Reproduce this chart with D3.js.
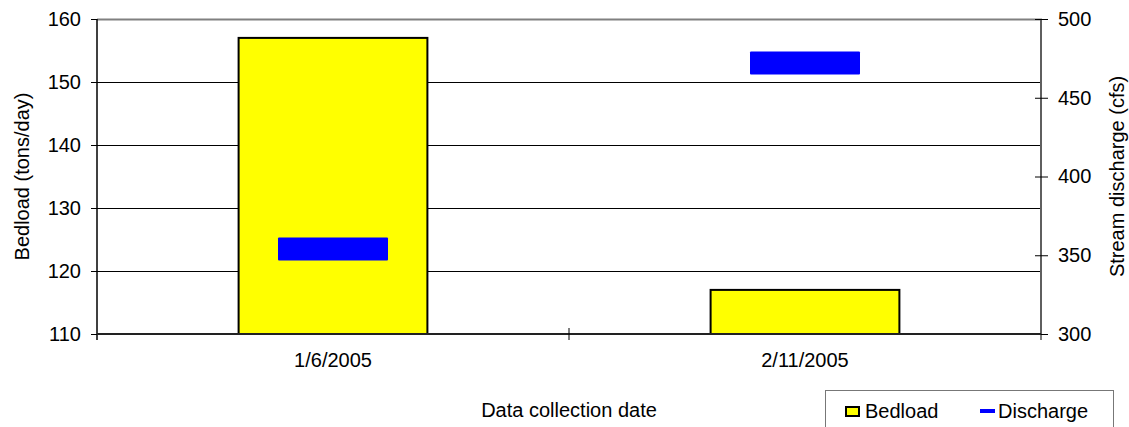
<!DOCTYPE html>
<html>
<head>
<meta charset="utf-8">
<script src="https://cdn.jsdelivr.net/npm/d3@7"></script>
<style>
  html, body { margin: 0; padding: 0; background: #fff; }
  svg { display: block; font-family: "Liberation Sans", Arial, sans-serif; }
</style>
</head>
<body>
<svg id="chart" width="1129" height="427"></svg>
<script>
// Bedload and stream discharge per collection date
const dates = ["1/6/2005", "2/11/2005"];
const bedload = [157, 117];          // tons/day
const discharge = [354, 472];        // cfs
const bedloadTicks = [110, 120, 130, 140, 150, 160];
const dischargeTicks = [300, 350, 400, 450, 500];

const FONT = 20;
const svg = d3.select("#chart");
const plot = { left: 97, right: 1041, top: 19, bottom: 334 };

const x = d3.scaleBand().domain(dates).range([plot.left, plot.right]).paddingInner(0).paddingOuter(0);
const yL = d3.scaleLinear().domain([110, 160]).range([plot.bottom, plot.top]);
const yR = d3.scaleLinear().domain([300, 500]).range([plot.bottom, plot.top]);

// horizontal gridlines
svg.append("g").attr("shape-rendering", "crispEdges").selectAll("line")
  .data(bedloadTicks.filter(t => t !== 110 && t !== 160))
  .join("line")
  .attr("x1", plot.left).attr("x2", plot.right)
  .attr("y1", d => yL(d)).attr("y2", d => yL(d))
  .attr("stroke", "#000").attr("stroke-width", 1);

// plot frame: top and right in gray
svg.append("path")
  .attr("d", `M${plot.left},${plot.top + 0.5}H${plot.right}V${plot.bottom}`)
  .attr("fill", "none").attr("stroke", "#808080").attr("stroke-width", 2);

// bedload bars
const barW = x.bandwidth() * 0.4;
svg.append("g").selectAll("rect")
  .data(dates)
  .join("rect")
  .attr("x", (d) => x(d) + (x.bandwidth() - barW) / 2)
  .attr("y", (d, i) => yL(bedload[i]))
  .attr("width", barW)
  .attr("height", (d, i) => yL(110) - yL(bedload[i]))
  .attr("fill", "#ffff00")
  .attr("stroke", "#000")
  .attr("stroke-width", 2);

// discharge markers (dash symbols)
const mW = 110, mH = 23;
svg.append("g").selectAll("rect")
  .data(dates)
  .join("rect")
  .attr("x", d => x(d) + x.bandwidth() / 2 - mW / 2)
  .attr("y", (d, i) => yR(discharge[i]) - mH / 2)
  .attr("width", mW).attr("height", mH)
  .attr("rx", 1)
  .attr("fill", "#0000ff");

// left axis
const leftAxis = d3.axisLeft(yL).tickValues(bedloadTicks).tickSize(6).tickPadding(10);
const gL = svg.append("g").attr("transform", `translate(${plot.left},0)`).call(leftAxis);
gL.select(".domain").attr("stroke", "#000").attr("stroke-width", 1.5)
  .attr("d", `M0,${plot.top}V${plot.bottom + 6}`);
gL.selectAll(".tick line").attr("stroke", "#000");
gL.selectAll(".tick text").attr("font-size", FONT).attr("fill", "#000")
  .attr("font-family", "Liberation Sans, Arial, sans-serif");

// right axis with crossing ticks
const rightAxis = d3.axisRight(yR).tickValues(dischargeTicks).tickSize(7).tickPadding(10);
const gR = svg.append("g").attr("transform", `translate(${plot.right},0)`).call(rightAxis);
gR.select(".domain").attr("stroke", "#555").attr("stroke-width", 1.5)
  .attr("d", `M0,${plot.top}V${plot.bottom + 6}`);
gR.selectAll(".tick line").attr("x1", -6).attr("stroke", "#000");
gR.selectAll(".tick text").attr("font-size", FONT).attr("fill", "#000")
  .attr("font-family", "Liberation Sans, Arial, sans-serif");

// bottom category axis
const bottomAxis = d3.axisBottom(x).tickSize(0).tickPadding(19);
const gB = svg.append("g").attr("transform", `translate(0,${plot.bottom})`).call(bottomAxis);
gB.select(".domain").attr("stroke", "#222").attr("stroke-width", 2)
  .attr("d", `M${plot.left},0H${plot.right}`);
gB.selectAll(".tick text").attr("font-size", FONT).attr("fill", "#000")
  .attr("font-family", "Liberation Sans, Arial, sans-serif");
// category divider ticks
svg.append("g").selectAll("line")
  .data(dates.slice(1))
  .join("line")
  .attr("x1", d => x(d)).attr("x2", d => x(d))
  .attr("y1", plot.bottom - 6).attr("y2", plot.bottom + 6)
  .attr("stroke", "#000");

// axis titles
svg.append("text")
  .attr("transform", `translate(29,${(plot.top + plot.bottom) / 2}) rotate(-90)`)
  .attr("text-anchor", "middle").attr("font-size", FONT).text("Bedload (tons/day)");
svg.append("text")
  .attr("transform", `translate(1124,${(plot.top + plot.bottom) / 2}) rotate(-90)`)
  .attr("text-anchor", "middle").attr("font-size", FONT).text("Stream discharge (cfs)");
svg.append("text")
  .attr("x", (plot.left + plot.right) / 2).attr("y", 417)
  .attr("text-anchor", "middle").attr("font-size", FONT).text("Data collection date");

// legend
const lg = svg.append("g");
lg.append("rect").attr("x", 825.5).attr("y", 390.5).attr("width", 288).attr("height", 45)
  .attr("fill", "#fff").attr("stroke", "#777").attr("stroke-width", 1);
lg.append("rect").attr("x", 846).attr("y", 407).attr("width", 13).attr("height", 9)
  .attr("fill", "#ffff00").attr("stroke", "#000").attr("stroke-width", 2);
lg.append("text").attr("x", 865).attr("y", 418).attr("font-size", FONT).text("Bedload");
lg.append("rect").attr("x", 980).attr("y", 409).attr("width", 15).attr("height", 4).attr("fill", "#0000ff");
lg.append("text").attr("x", 998).attr("y", 418).attr("font-size", FONT).text("Discharge");
</script>
</body>
</html>
